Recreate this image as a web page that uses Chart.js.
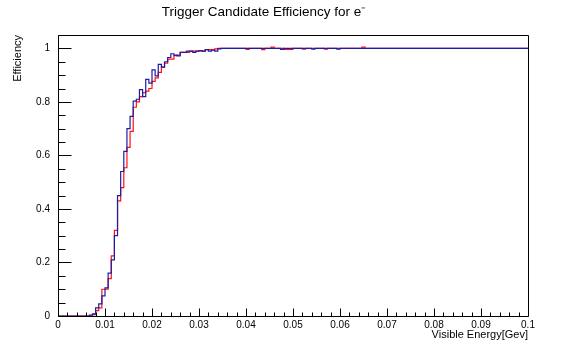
<!DOCTYPE html>
<html>
<head>
<meta charset="utf-8">
<script src="https://cdn.jsdelivr.net/npm/chart.js@4.4.1/dist/chart.umd.min.js"></script>
<style>
html, body { margin: 0; padding: 0; background: #fff; }
#wrap { width: 586px; height: 352px; }
</style>
</head>
<body>
<div id="wrap"><canvas id="chart"></canvas></div>
<script>
// histogram: 150 bins over 0 - 0.1 GeV, only bins where the value changes are listed
var binWidth = 0.1 / 150;

var blue_bins = [0, 10, 11, 12, 13, 14, 15, 16, 17, 18, 19, 20, 21, 22, 23, 24, 25, 26, 27, 28, 29, 30,
    31, 32, 33, 34, 35, 36, 37, 38, 39, 40, 41, 42, 43, 44, 45, 46, 47, 48, 49, 50, 51, 52,
    71, 72, 81, 82, 89, 90, 150];
var blue_eff = [0, 0.003, 0.008, 0.03, 0.045, 0.075, 0.105, 0.16, 0.21, 0.30, 0.45, 0.54, 0.615, 0.70, 0.746, 0.803, 0.81, 0.846, 0.82, 0.884, 0.87, 0.92,
    0.897, 0.94, 0.93, 0.95, 0.966, 0.98, 0.975, 0.972, 0.985, 0.985, 0.99, 0.99, 0.985, 0.99, 0.992, 0.99, 0.995, 0.99, 0.993, 0.99, 0.998, 1,
    0.996, 1, 0.997, 1, 0.997, 1, 1];

var red_bins = [0, 11, 12, 13, 14, 15, 16, 17, 18, 19, 20, 21, 22, 23, 24, 25, 26, 27, 28, 29, 30,
    31, 32, 33, 34, 35, 36, 37, 38, 39, 40, 41, 42, 43, 44, 45, 46, 47, 48, 49, 50, 51,
    60, 61, 65, 66, 68, 69, 72, 75, 78, 79, 85, 86, 97, 98, 150];
var red_eff = [0, 0.005, 0.02, 0.03, 0.10, 0.10, 0.14, 0.225, 0.32, 0.43, 0.48, 0.554, 0.63, 0.69, 0.78, 0.80, 0.82, 0.835, 0.84, 0.85, 0.877,
    0.89, 0.91, 0.93, 0.945, 0.96, 0.96, 0.973, 0.975, 0.985, 0.985, 0.985, 0.99, 0.99, 0.99, 0.99, 0.99, 0.995, 0.995, 0.995, 0.998, 1,
    0.996, 1, 0.995, 1, 1.005, 1, 0.996, 1, 0.997, 1, 0.997, 1, 1.005, 1, 1];

var x_ticks = [0, 0.01, 0.02, 0.03, 0.04, 0.05, 0.06, 0.07, 0.08, 0.09, 0.1];
var x_labels = ['0', '0.01', '0.02', '0.03', '0.04', '0.05', '0.06', '0.07', '0.08', '0.09', '0.1'];
var y_ticks = [0, 0.2, 0.4, 0.6, 0.8, 1];
var y_labels = ['0', '0.2', '0.4', '0.6', '0.8', '1'];

function toPoints(bins, eff) {
    return bins.map(function (b, i) { return { x: b * binWidth, y: eff[i] }; });
}

var font = 'Liberation Sans, Arial, sans-serif';

// ROOT style frame with ticks pointing inwards
var frame = {
    id: 'frame',
    afterDraw: function (chart) {
        var ctx = chart.ctx, a = chart.chartArea;
        var xs = chart.scales.x, ys = chart.scales.y;
        ctx.save();
        ctx.strokeStyle = '#000';
        ctx.lineWidth = 1;
        ctx.beginPath();
        ctx.rect(Math.round(a.left) + 0.5, Math.round(a.top) + 0.5, Math.round(a.right - a.left), Math.round(a.bottom - a.top));
        var yb = Math.round(a.bottom) + 0.5;
        for (var i = 0; i < x_ticks.length; i++) {
            var px = Math.round(xs.getPixelForValue(x_ticks[i])) + 0.5;
            ctx.moveTo(px, yb); ctx.lineTo(px, yb - 8);
            if (i < x_ticks.length - 1) {
                var step = (x_ticks[i + 1] - x_ticks[i]) / 5;
                for (var j = 1; j < 5; j++) {
                    var pm = Math.round(xs.getPixelForValue(x_ticks[i] + j * step)) + 0.5;
                    ctx.moveTo(pm, yb); ctx.lineTo(pm, yb - 4);
                }
            }
        }
        var xl = Math.round(a.left) + 0.5;
        for (var k = 0; k < y_ticks.length; k++) {
            var py = Math.round(ys.getPixelForValue(y_ticks[k])) + 0.5;
            ctx.moveTo(xl, py); ctx.lineTo(xl + 13, py);
            var ystep = 0.05;
            for (var m = 1; m < 4; m++) {
                var v = y_ticks[k] + m * ystep;
                if (v > ys.max) break;
                var pmy = Math.round(ys.getPixelForValue(v)) + 0.5;
                ctx.moveTo(xl, pmy); ctx.lineTo(xl + 7, pmy);
            }
        }
        ctx.stroke();
        ctx.restore();
    }
};

var chart = new Chart(
    document.getElementById('chart'),
    {
        type: 'line',
        data: {
            datasets: [
                {
                    label: 'blue',
                    data: toPoints(blue_bins, blue_eff),
                    borderColor: '#1c1ca8',
                    borderWidth: 1.2,
                    stepped: 'before',
                    pointRadius: 0,
                    fill: false
                },
                {
                    label: 'red',
                    data: toPoints(red_bins, red_eff),
                    borderColor: '#ff1010',
                    borderWidth: 1.2,
                    stepped: 'before',
                    pointRadius: 0,
                    fill: false
                }
            ]
        },
        options: {
            responsive: true,
            maintainAspectRatio: false,
            animation: false,
            layout: { padding: { left: 0, right: 58, top: 0, bottom: 0 } },
            plugins: {
                legend: { display: false },
                tooltip: { enabled: false },
                title: {
                    display: true,
                    text: 'Trigger Candidate Efficiency for e\u207B',
                    color: '#000',
                    font: { family: font, size: 13.5, weight: 'normal' },
                    padding: { top: 4, bottom: 14.8 }
                }
            },
            scales: {
                x: {
                    type: 'linear',
                    min: 0,
                    max: 0.1,
                    afterFit: function (s) { s.height = 36; },
                    afterBuildTicks: function (s) { s.ticks = x_ticks.map(function (v) { return { value: v }; }); },
                    grid: { display: false, drawTicks: false },
                    border: { display: false },
                    ticks: {
                        color: '#000',
                        padding: 3,
                        maxRotation: 0,
                        autoSkip: false,
                        font: { family: font, size: 10 },
                        callback: function (v, i) { return x_labels[i]; }
                    },
                    title: {
                        display: true,
                        text: 'Visible Energy[Gev]',
                        align: 'end',
                        color: '#000',
                        font: { family: font, size: 11 },
                        padding: { top: 0, bottom: 10 }
                    }
                },
                y: {
                    type: 'linear',
                    min: 0,
                    max: 1.05,
                    afterFit: function (s) { s.width = 58; },
                    afterBuildTicks: function (s) { s.ticks = y_ticks.map(function (v) { return { value: v }; }); },
                    grid: { display: false, drawTicks: false },
                    border: { display: false },
                    ticks: {
                        color: '#000',
                        padding: 8,
                        font: { family: font, size: 10 },
                        callback: function (v, i) { return y_labels[i]; }
                    },
                    title: {
                        display: true,
                        text: 'Efficiency',
                        align: 'end',
                        color: '#000',
                        font: { family: font, size: 11 },
                        padding: { top: 11, bottom: 0 }
                    }
                }
            }
        },
        plugins: [frame]
    }
);
</script>
</body>
</html>
